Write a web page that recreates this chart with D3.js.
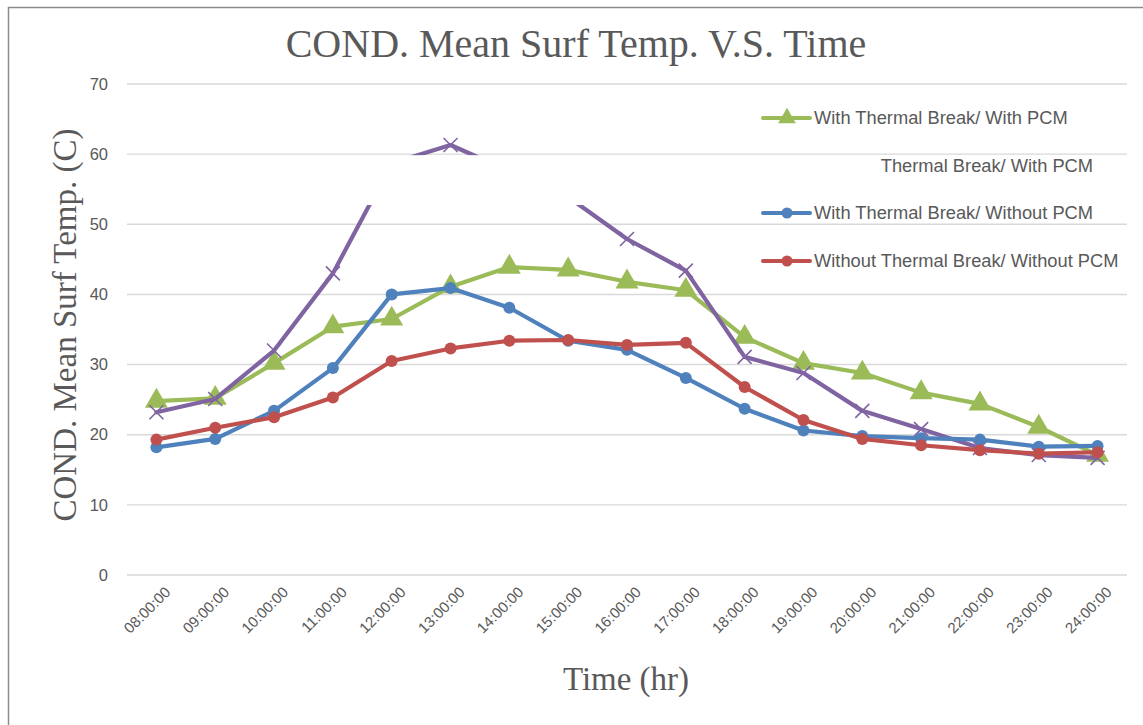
<!DOCTYPE html>
<html>
<head>
<meta charset="utf-8">
<script src="https://cdn.jsdelivr.net/npm/d3@7/dist/d3.min.js"></script>
<style>
  html, body { margin: 0; padding: 0; background: #fff; }
  svg { display: block; }
</style>
</head>
<body>
<svg id="chart" width="1143" height="725"></svg>
<script>
// Hourly readings, 08:00 to 24:00
const hours = ["08:00:00","09:00:00","10:00:00","11:00:00","12:00:00","13:00:00","14:00:00","15:00:00","16:00:00",
               "17:00:00","18:00:00","19:00:00","20:00:00","21:00:00","22:00:00","23:00:00","24:00:00"];

const withBreakWithPCM      = [24.8, 25.2, 30.2, 35.4, 36.5, 41.1, 43.9, 43.5, 41.8, 40.6, 33.9, 30.2, 28.8, 26.0, 24.4, 21.1, 17.1];
const withoutBreakWithPCM   = [23.2, 25.1, 32.0, 43.0, 58.7, 61.3, 57.6, 53.9, 47.9, 43.4, 31.1, 28.8, 23.4, 20.8, 18.1, 17.1, 16.7];
const withBreakWithoutPCM   = [18.2, 19.4, 23.4, 29.5, 40.0, 40.9, 38.1, 33.4, 32.1, 28.1, 23.7, 20.6, 19.8, 19.5, 19.3, 18.3, 18.4];
const withoutBreakWithoutPCM= [19.3, 21.0, 22.5, 25.3, 30.5, 32.3, 33.4, 33.5, 32.8, 33.1, 26.8, 22.1, 19.4, 18.5, 17.8, 17.3, 17.5];

const yTicks = [0, 10, 20, 30, 40, 50, 60, 70];

const seriesNames = [
  "With Thermal Break/ With PCM",
  "Without Thermal Break/ With PCM",
  "With Thermal Break/ Without PCM",
  "Without Thermal Break/ Without PCM"
];

const series = [
  { name: seriesNames[0], values: withBreakWithPCM,       color: "#9BBB59", marker: "triangle" },
  { name: seriesNames[1], values: withoutBreakWithPCM,    color: "#8064A2", marker: "cross" },
  { name: seriesNames[2], values: withBreakWithoutPCM,    color: "#4F81BD", marker: "circle" },
  { name: seriesNames[3], values: withoutBreakWithoutPCM, color: "#C0504D", marker: "circle" }
];

const svg = d3.select("#chart");
const W = 1143, H = 725;
const plot = { left: 127, right: 1127, top: 84, bottom: 575 };
const textColor = "#595959";

// outer frame
svg.append("rect")
  .attr("x", 8.5).attr("y", 7.5)
  .attr("width", W + 20).attr("height", H + 20)
  .attr("fill", "#fff").attr("stroke", "#8c8c8c").attr("stroke-width", 1.5);

const x = d3.scaleBand().domain(hours).range([plot.left, plot.right]);
const y = d3.scaleLinear().domain([0, 70]).range([plot.bottom, plot.top]);
const cx = h => x(h) + x.bandwidth() / 2;

// horizontal gridlines
svg.append("g").selectAll("line").data(yTicks).join("line")
  .attr("x1", plot.left).attr("x2", plot.right)
  .attr("y1", d => y(d)).attr("y2", d => y(d))
  .attr("stroke", "#d9d9d9").attr("stroke-width", 1.4);

// y axis labels
const yAxis = d3.axisLeft(y).tickValues(yTicks).tickSize(0).tickPadding(0);
const yg = svg.append("g").attr("transform", `translate(${plot.left - 19},0)`).call(yAxis);
yg.select(".domain").remove();
yg.selectAll("text")
  .attr("fill", textColor)
  .style("font-family", "'Liberation Sans', Arial, sans-serif")
  .style("font-size", "16.5px");

// x axis labels, slanted
const xAxis = d3.axisBottom(x).tickSize(0).tickPadding(0);
const xg = svg.append("g").attr("transform", `translate(0,${plot.bottom})`).call(xAxis);
xg.select(".domain").remove();
xg.selectAll("text")
  .attr("fill", textColor)
  .style("font-family", "'Liberation Sans', Arial, sans-serif")
  .style("font-size", "15px")
  .attr("text-anchor", "end")
  .attr("dy", null)
  .attr("y", 0)
  .attr("transform", "translate(15,18) rotate(-45)");

// series lines and markers
const line = d3.line().x((d, i) => cx(hours[i])).y(d => y(d));

function drawMarker(g, type, color, px, py, s) {
  if (type === "circle") {
    g.append("circle").attr("cx", px).attr("cy", py).attr("r", s * 0.5).attr("fill", color);
  } else if (type === "triangle") {
    const sym = d3.symbol().type(d3.symbolTriangle).size(s * s * 0.95);
    g.append("path").attr("d", sym()).attr("transform", `translate(${px},${py})`).attr("fill", color);
  } else {
    const h = s * 0.5;
    g.append("path")
      .attr("d", `M${px - h},${py - h}L${px + h},${py + h}M${px - h},${py + h}L${px + h},${py - h}`)
      .attr("stroke", color).attr("stroke-width", 1.6).attr("fill", "none");
  }
}

series.forEach(s => {
  const g = svg.append("g");
  g.append("path").datum(s.values)
    .attr("d", line)
    .attr("fill", "none").attr("stroke", s.color)
    .attr("stroke-width", 4.2).attr("stroke-linejoin", "round").attr("stroke-linecap", "round");
  s.values.forEach((v, i) => {
    const size = s.marker === "circle" ? 12 : (s.marker === "triangle" ? 15.5 : 14);
    drawMarker(g, s.marker, s.color, cx(hours[i]), y(v), size);
  });
});

// legend
const legend = svg.append("g");
const legendRows = [118, 166, 213, 261];
series.forEach((s, i) => {
  const ly = legendRows[i];
  legend.append("line")
    .attr("x1", 763).attr("x2", 810).attr("y1", ly).attr("y2", ly)
    .attr("stroke", s.color).attr("stroke-width", 4).attr("stroke-linecap", "round");
  drawMarker(legend, s.marker, s.color, 787, ly, s.marker === "circle" ? 11 : 12);
  legend.append("text")
    .attr("x", 814).attr("y", ly).attr("dy", "0.35em")
    .attr("fill", textColor)
    .style("font-family", "'Liberation Sans', Arial, sans-serif")
    .style("font-size", "18.3px")
    .text(s.name);
});

// white panel lying over the upper middle of the plot
svg.append("rect")
  .attr("x", 270).attr("y", 155.2)
  .attr("width", 880 - 270).attr("height", 205 - 155.2)
  .attr("fill", "#fff");

// title and axis titles
svg.append("text")
  .attr("x", 576).attr("y", 57)
  .attr("text-anchor", "middle")
  .attr("fill", textColor)
  .style("font-family", "'Liberation Serif', 'Times New Roman', serif")
  .style("font-size", "40px")
  .text("COND. Mean Surf Temp. V.S. Time");

svg.append("text")
  .attr("transform", "translate(76,325) rotate(-90)")
  .attr("text-anchor", "middle")
  .attr("fill", textColor)
  .style("font-family", "'Liberation Serif', 'Times New Roman', serif")
  .style("font-size", "33px")
  .text("COND. Mean Surf Temp. (C)");

svg.append("text")
  .attr("x", 626).attr("y", 690)
  .attr("text-anchor", "middle")
  .attr("fill", textColor)
  .style("font-family", "'Liberation Serif', 'Times New Roman', serif")
  .style("font-size", "33px")
  .text("Time (hr)");
</script>
</body>
</html>
